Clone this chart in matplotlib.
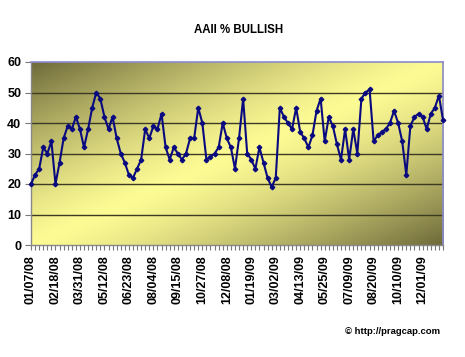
import numpy as np
import matplotlib
matplotlib.use('Agg')
import matplotlib.pyplot as plt
from matplotlib.colors import to_rgb

# Etiquetas visibles del eje X (una cada 6 semanas)
etiquetas = ['01/07/08', '02/18/08', '03/31/08', '05/12/08', '06/23/08', '08/04/08',
             '09/15/08', '10/27/08', '12/08/08', '01/19/09', '03/02/09', '04/13/09',
             '05/25/09', '07/09/09', '08/20/09', '10/10/09', '12/01/09']
paso_etiqueta = 6

# Porcentaje de alcistas AAII (semanal)
bullish = [20, 23, 25, 32, 30, 34, 20, 27, 35, 39, 38, 42, 38, 32, 38, 45, 50, 48,
           42, 38, 42, 35, 30, 27, 23, 22, 25, 28, 38, 35, 39, 38, 43, 32, 28, 32,
           30, 28, 30, 35, 35, 45, 40, 28, 29, 30, 32, 40, 35, 32, 25, 35, 48, 30,
           28, 25, 32, 27, 22, 19, 22, 45, 42, 40, 38, 45, 37, 35, 32, 36, 44, 48,
           34, 42, 39, 33, 28, 38, 28, 38, 30, 48, 50, 51, 34, 36, 37, 38, 40, 44,
           40, 34, 23, 39, 42, 43, 42, 38, 43, 45, 49, 41]

valores_y = [0, 10, 20, 30, 40, 50, 60]

plt.rcParams['font.family'] = ['Liberation Sans', 'DejaVu Sans']

fig = plt.figure(figsize=(4.65, 3.57), dpi=100)
ax = fig.add_axes([31 / 465, 1 - 245 / 357, 412 / 465, 183 / 357])

# Fondo degradado diagonal (oscuro en esquinas, amarillo claro en el centro)
claro = np.array(to_rgb('#fdfb94'))
oscuro = np.array(to_rgb('#6e6a3a'))
xx, yy = np.meshgrid(np.linspace(0, 1, 300), np.linspace(1, 0, 200))
d = np.abs(xx - yy)
t = np.clip(d, 0, 1) ** 1.3
img = claro[None, None, :] * (1 - t[..., None]) + oscuro[None, None, :] * t[..., None]
ax.imshow(img, extent=[0, 1, 0, 1], transform=ax.transAxes, aspect='auto', zorder=0)

x = np.arange(len(bullish))
ax.plot(x, bullish, color='#0a0a80', linewidth=1.5, marker='D', markersize=2.3,
        zorder=3, clip_on=False)

ax.set_xlim(0, len(bullish) - 1)
ax.set_ylim(0, 60)
ax.set_yticks(valores_y)
ax.set_yticklabels([str(v) for v in valores_y], fontsize=9, fontweight='bold')
for v in valores_y[1:-1]:
    ax.axhline(v, color='#3c3a22', linewidth=1.0, zorder=1)

ax.set_xticks(x, minor=True)
pos_etq = x[::paso_etiqueta][:len(etiquetas)]
ax.set_xticks(pos_etq)
ax.set_xticklabels(etiquetas, rotation=90, fontsize=9, fontweight='bold')
ax.tick_params(axis='x', which='both', length=3.5, width=0.8, color='#777777', pad=4)
ax.tick_params(axis='y', length=4, width=0.8, color='#777777', pad=3)

for lado in ['left', 'bottom']:
    ax.spines[lado].set_color('#888888')
    ax.spines[lado].set_linewidth(1.0)
for lado in ['top', 'right']:
    ax.spines[lado].set_color('#8a8ad0')
    ax.spines[lado].set_linewidth(1.2)

fig.text(239 / 465, 1 - 30 / 357, 'AAII % BULLISH', ha='center', va='center',
         fontsize=8.3, fontweight='bold')
fig.text(440 / 465, 1 - 331 / 357, '\u00a9 http://pragcap.com', ha='right', va='center',
         fontsize=6.8, fontweight='bold')

fig.savefig('out.png', dpi=100)
